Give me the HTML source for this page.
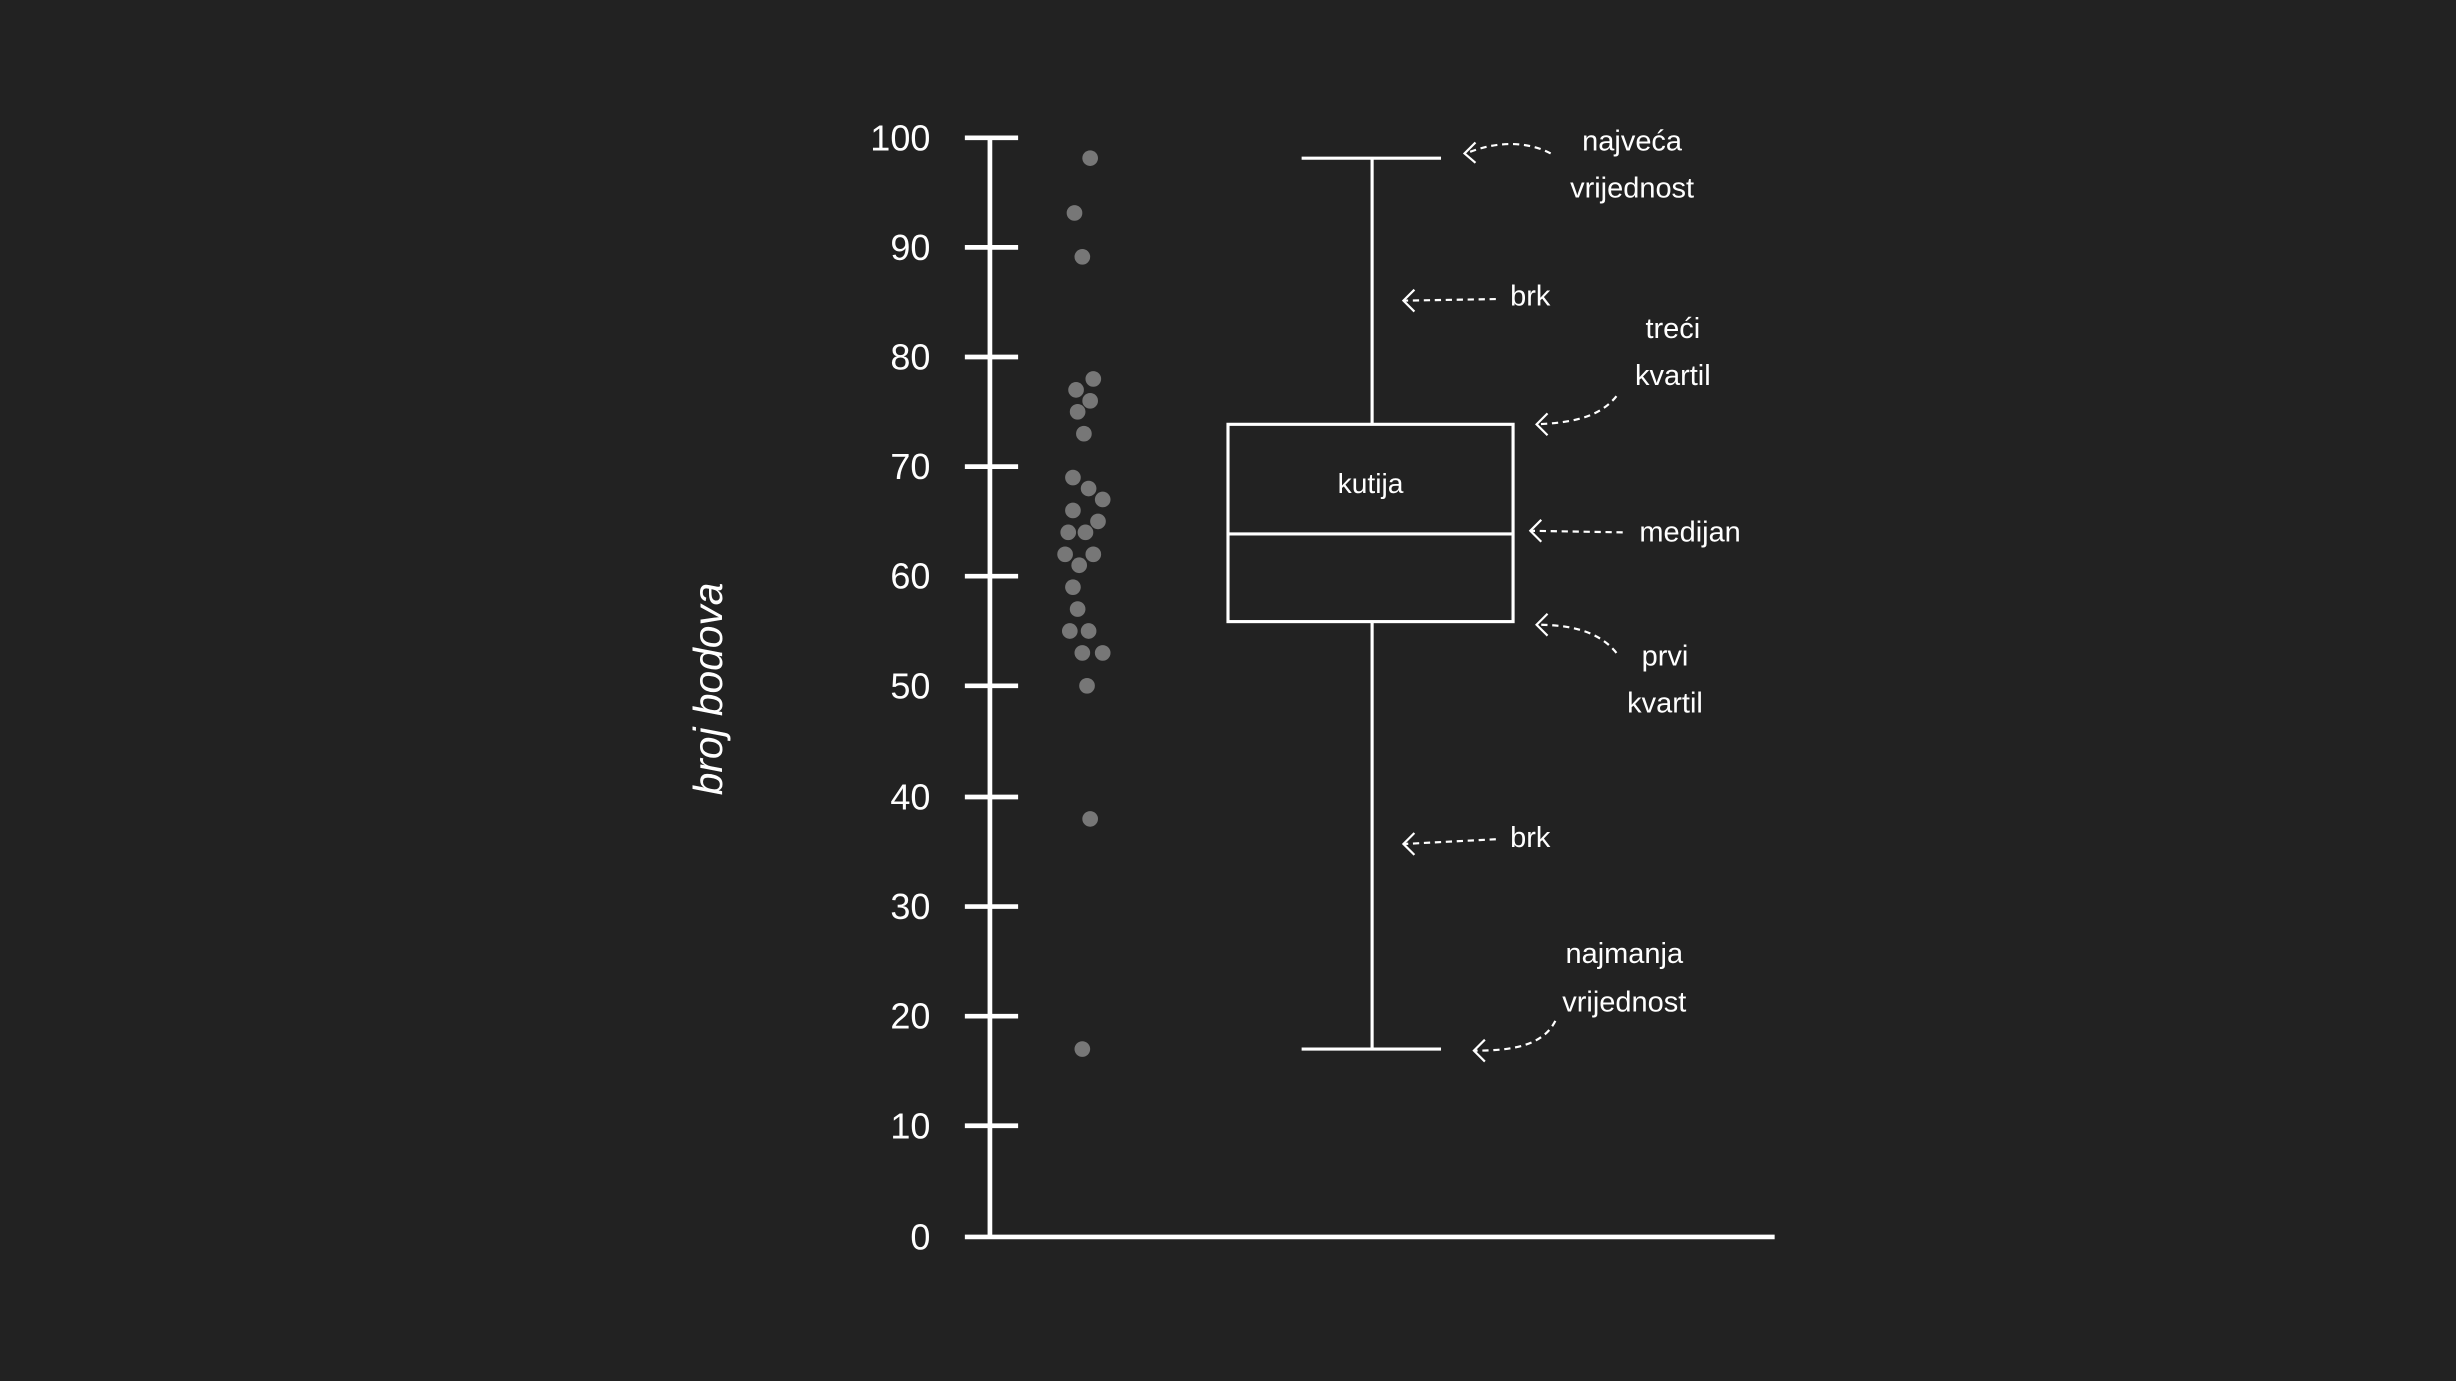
<!DOCTYPE html>
<html><head><meta charset="utf-8"><style>
html,body{margin:0;padding:0;background:#222222;}
svg{display:block}
text{font-family:"Liberation Sans",sans-serif;fill:#fff}
</style></head><body>
<svg width="2456" height="1381" viewBox="0 0 1568 882" preserveAspectRatio="none" xmlns="http://www.w3.org/2000/svg">
<rect width="1568" height="882" fill="#222222"/>
<g stroke="#fff" stroke-width="3" fill="none">
<line x1="632" y1="87" x2="632" y2="791"/>
<line x1="616" y1="790" x2="1133" y2="790"/>
<line x1="616" y1="88" x2="650" y2="88"/>
<line x1="616" y1="158" x2="650" y2="158"/>
<line x1="616" y1="228" x2="650" y2="228"/>
<line x1="616" y1="298" x2="650" y2="298"/>
<line x1="616" y1="368" x2="650" y2="368"/>
<line x1="616" y1="438" x2="650" y2="438"/>
<line x1="616" y1="509" x2="650" y2="509"/>
<line x1="616" y1="579" x2="650" y2="579"/>
<line x1="616" y1="649" x2="650" y2="649"/>
<line x1="616" y1="719" x2="650" y2="719"/>
</g>
<g font-size="23" text-anchor="end">
<text x="594" y="96">100</text><text x="594" y="166">90</text><text x="594" y="236">80</text>
<text x="594" y="306">70</text><text x="594" y="376">60</text><text x="594" y="446">50</text>
<text x="594" y="517">40</text><text x="594" y="587">30</text><text x="594" y="657">20</text>
<text x="594" y="727">10</text><text x="594" y="798">0</text>
</g>
<text x="0" y="0" font-size="26" font-style="italic" text-anchor="middle" transform="translate(461,440) rotate(-90)">broj bodova</text>
<g fill="#777">
<circle cx="696" cy="101" r="5"/><circle cx="686" cy="136" r="5"/><circle cx="691" cy="164" r="5"/>
<circle cx="698" cy="242" r="5"/><circle cx="687" cy="249" r="5"/><circle cx="696" cy="256" r="5"/>
<circle cx="688" cy="263" r="5"/><circle cx="692" cy="277" r="5"/><circle cx="685" cy="305" r="5"/>
<circle cx="695" cy="312" r="5"/><circle cx="704" cy="319" r="5"/><circle cx="685" cy="326" r="5"/>
<circle cx="701" cy="333" r="5"/><circle cx="682" cy="340" r="5"/><circle cx="693" cy="340" r="5"/>
<circle cx="680" cy="354" r="5"/><circle cx="698" cy="354" r="5"/><circle cx="689" cy="361" r="5"/>
<circle cx="685" cy="375" r="5"/><circle cx="688" cy="389" r="5"/><circle cx="683" cy="403" r="5"/>
<circle cx="695" cy="403" r="5"/><circle cx="691" cy="417" r="5"/><circle cx="704" cy="417" r="5"/>
<circle cx="694" cy="438" r="5"/><circle cx="696" cy="523" r="5"/><circle cx="691" cy="670" r="5"/>
</g>
<g stroke="#fff" stroke-width="2" fill="none">
<rect x="784" y="271" width="182" height="126"/>
<line x1="784" y1="341" x2="966" y2="341"/>
<line x1="876" y1="101" x2="876" y2="271"/>
<line x1="876" y1="397" x2="876" y2="670"/>
<line x1="831" y1="101" x2="920" y2="101"/>
<line x1="831" y1="670" x2="920" y2="670"/>
</g>
<text x="875" y="315" font-size="18" text-anchor="middle">kutija</text>
<g stroke="#fff" stroke-width="1.4" fill="none" stroke-dasharray="4,3">
<path d="M990,98 C975,90 955,90 936,98"/>
<path d="M955,191 L897,192"/>
<path d="M1032,253 C1020,268 1000,270 981,271"/>
<path d="M1036,340 L978,339"/>
<path d="M1032,417 C1020,402 1000,399 981,399"/>
<path d="M955,536 L897,539"/>
<path d="M993,652 C985,668 965,671 942,671"/>
</g>
<g stroke="#fff" stroke-width="1.4" fill="none">
<path d="M942,91 L935,98 L942,104"/>
<path d="M903,185 L896,192 L903,199"/>
<path d="M988,264 L981,271 L988,278"/>
<path d="M984,332 L977,339 L984,346"/>
<path d="M988,392 L981,399 L988,406"/>
<path d="M903,532 L896,539 L903,546"/>
<path d="M948,664 L941,671 L948,678"/>
</g>
<g font-size="18.5" text-anchor="middle">
<text x="1042" y="96">najveća</text><text x="1042" y="126">vrijednost</text>
<text x="977" y="195">brk</text>
<text x="1068" y="216">treći</text><text x="1068" y="246">kvartil</text>
<text x="1079" y="346">medijan</text>
<text x="1063" y="425">prvi</text><text x="1063" y="455">kvartil</text>
<text x="977" y="541">brk</text>
<text x="1037" y="615">najmanja</text><text x="1037" y="646">vrijednost</text>
</g>
</svg>
</body></html>
